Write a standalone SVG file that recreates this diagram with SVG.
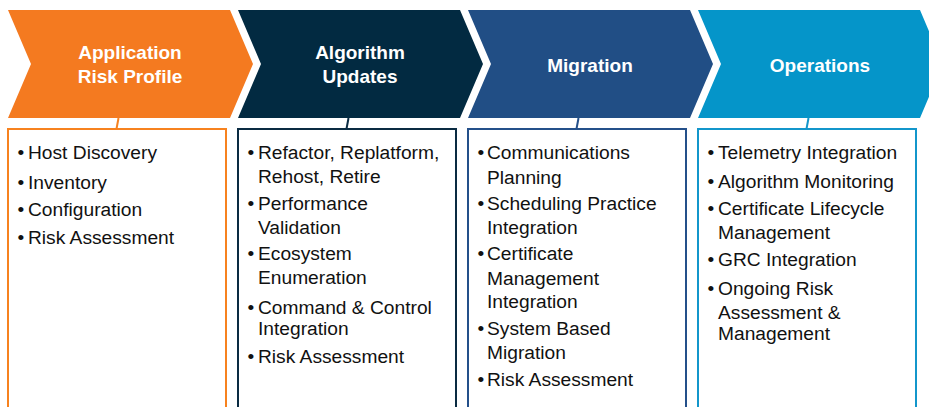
<svg xmlns="http://www.w3.org/2000/svg" width="929" height="407" viewBox="0 0 929 407">
<style>
.title{font-family:"Liberation Sans",Arial,sans-serif;font-weight:bold;font-size:19px;fill:#ffffff;text-anchor:middle}
.item{font-family:"Liberation Sans",Arial,sans-serif;font-size:19.2px;fill:#111111}
.box{fill:#ffffff;stroke-width:2}
.conn{stroke-width:2;fill:none}
</style>
<rect x="0" y="0" width="929" height="407" fill="#ffffff"/>
<g id="connectors">
<line class="conn" x1="118.5" y1="118" x2="116.5" y2="129" stroke="#F7821F"/>
<line class="conn" x1="348.5" y1="118" x2="346.5" y2="129" stroke="#0A2B42"/>
<line class="conn" x1="578.5" y1="118" x2="576.5" y2="129" stroke="#24508A"/>
<line class="conn" x1="808.5" y1="118" x2="806.5" y2="129" stroke="#1396CB"/>
</g>
<g id="stage-application-risk-profile">
<polygon points="8,10 230,10 253,64 230,118 8,118 31,64" fill="#F47A20"/>
<text class="title" x="130" y="59">Application</text>
<text class="title" x="130" y="83">Risk Profile</text>
<rect class="box" x="8" y="129" width="218" height="300" stroke="#F7821F"/>
<g class="item">
<text x="17.5" y="159">•</text><text x="28" y="159">Host Discovery</text>
<text x="17.5" y="189">•</text><text x="28" y="189">Inventory</text>
<text x="17.5" y="216">•</text><text x="28" y="216">Configuration</text>
<text x="17.5" y="244">•</text><text x="28" y="244">Risk Assessment</text>
</g>
</g>
<g id="stage-algorithm-updates">
<polygon points="238,10 460,10 483,64 460,118 238,118 261,64" fill="#022A41"/>
<text class="title" x="360" y="59">Algorithm</text>
<text class="title" x="360" y="83">Updates</text>
<rect class="box" x="238" y="129" width="218" height="300" stroke="#0A2B42"/>
<g class="item">
<text x="247.5" y="159">•</text><text x="258" y="159">Refactor, Replatform,</text>
<text x="258" y="183">Rehost, Retire</text>
<text x="247.5" y="210">•</text><text x="258" y="210">Performance</text>
<text x="258" y="234">Validation</text>
<text x="247.5" y="260">•</text><text x="258" y="260">Ecosystem</text>
<text x="258" y="284">Enumeration</text>
<text x="247.5" y="314">•</text><text x="258" y="314">Command &amp; Control</text>
<text x="258" y="335">Integration</text>
<text x="247.5" y="363">•</text><text x="258" y="363">Risk Assessment</text>
</g>
</g>
<g id="stage-migration">
<polygon points="468,10 690,10 713,64 690,118 468,118 491,64" fill="#214E85"/>
<text class="title" x="590" y="72">Migration</text>
<rect class="box" x="468" y="129" width="218" height="300" stroke="#24508A"/>
<g class="item">
<text x="477.5" y="159">•</text><text x="487" y="159">Communications</text>
<text x="487" y="184">Planning</text>
<text x="477.5" y="210">•</text><text x="487" y="210">Scheduling Practice</text>
<text x="487" y="234">Integration</text>
<text x="477.5" y="260">•</text><text x="487" y="260">Certificate</text>
<text x="487" y="285">Management</text>
<text x="487" y="308">Integration</text>
<text x="477.5" y="335">•</text><text x="487" y="335">System Based</text>
<text x="487" y="359">Migration</text>
<text x="477.5" y="386">•</text><text x="487" y="386">Risk Assessment</text>
</g>
</g>
<g id="stage-operations">
<polygon points="698,10 920,10 943,64 920,118 698,118 721,64" fill="#0595C9"/>
<text class="title" x="820" y="72">Operations</text>
<rect class="box" x="698" y="129" width="218" height="300" stroke="#1396CB"/>
<g class="item">
<text x="707.5" y="159">•</text><text x="718" y="159">Telemetry Integration</text>
<text x="707.5" y="188">•</text><text x="718" y="188">Algorithm Monitoring</text>
<text x="707.5" y="215">•</text><text x="718" y="215">Certificate Lifecycle</text>
<text x="718" y="239">Management</text>
<text x="707.5" y="266">•</text><text x="718" y="266">GRC Integration</text>
<text x="707.5" y="295">•</text><text x="718" y="295">Ongoing Risk</text>
<text x="718" y="319">Assessment &amp;</text>
<text x="718" y="340">Management</text>
</g>
</g>
</svg>
